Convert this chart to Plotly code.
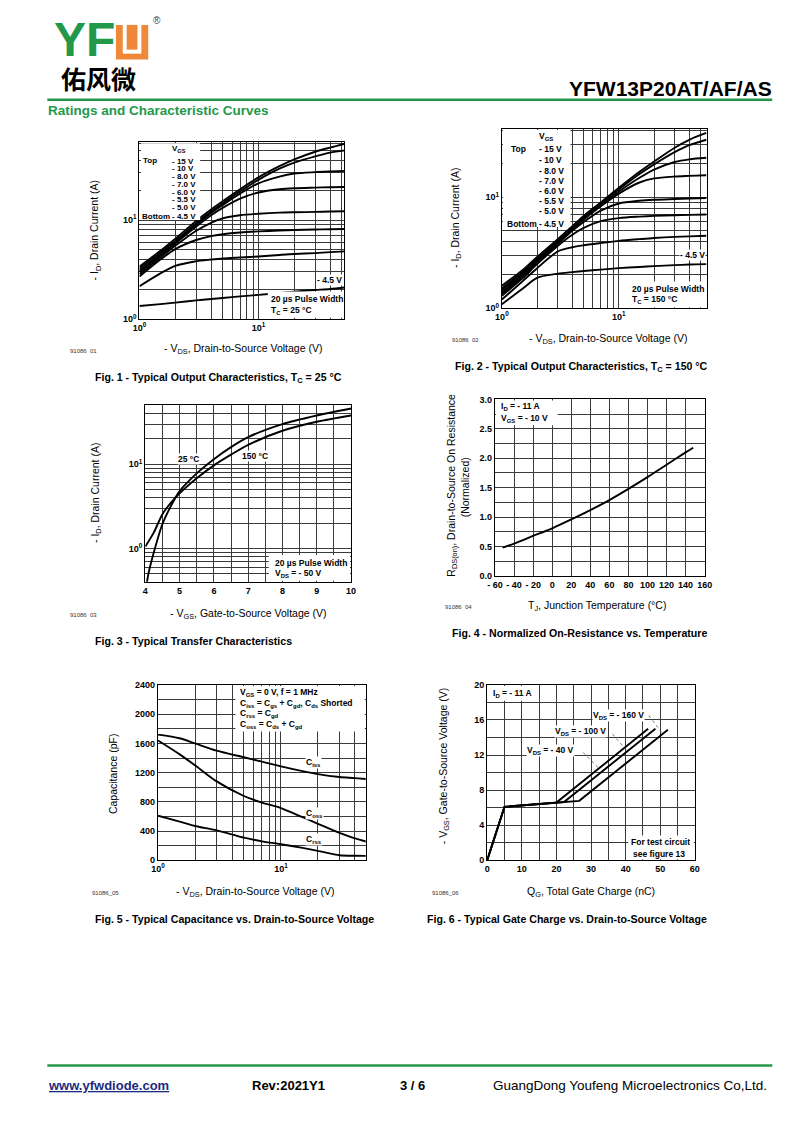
import numpy as np
import plotly.graph_objects as go

FONT = "Liberation Sans"
CJK = "Noto Sans CJK SC"
OFF = 8                     # browser body margin
W, H = 800 - 2 * OFF, 1130 - 2 * OFF
GREEN = "#23984a"
ORANGE = "#f0883a"

# ---------------- data ----------------
# Fig 1 / Fig 2 : output characteristics
vds_out = [1, 1.5, 2, 3, 4, 5, 7, 10, 15, 20, 30, 40, 56]
vgs_labels = ["- 15 V", "- 10 V", "- 8.0 V", "- 7.0 V", "- 6.0 V", "- 5.5 V", "- 5.0 V", "- 4.5 V"]

id25_15 = [3.4, 4.9, 6.5, 9.8, 12.8, 15.5, 20.5, 27, 35, 41, 49, 54, 60]
id25_10 = [3.25, 4.7, 6.2, 9.3, 12.2, 14.8, 19.5, 25.5, 33, 38, 44, 48, 51]
id25_8 = [3.1, 4.5, 6.0, 9.0, 11.8, 14.2, 18.5, 23.5, 27.5, 29.5, 30.5, 31, 31.5]
id25_7 = [3.0, 4.4, 5.8, 8.6, 11.2, 13.3, 16.5, 19.0, 20.5, 21, 21.3, 21.5, 21.6]
id25_6 = [2.85, 4.2, 5.5, 7.8, 9.4, 10.4, 11.2, 11.6, 11.9, 12.0, 12.1, 12.2, 12.3]
id25_55 = [2.7, 4.0, 5.1, 6.3, 6.9, 7.2, 7.5, 7.7, 7.85, 7.95, 8.05, 8.1, 8.15]
id25_5 = [2.15, 2.9, 3.45, 3.85, 4.0, 4.1, 4.2, 4.3, 4.45, 4.55, 4.65, 4.75, 4.85]
id25_45 = [1.36, 1.42, 1.47, 1.55, 1.6, 1.64, 1.7, 1.76, 1.84, 1.9, 1.97, 2.02, 2.1]

id150_15 = [1.6, 2.2, 2.9, 4.2, 5.5, 6.8, 9.0, 12.2, 17, 21, 28, 33, 38]
id150_10 = [1.52, 2.12, 2.8, 4.1, 5.4, 6.6, 8.8, 11.8, 16.2, 19.8, 25.5, 29.5, 33]
id150_8 = [1.46, 2.05, 2.72, 4.0, 5.3, 6.45, 8.6, 11.3, 15.0, 17.8, 20.8, 22, 22.7]
id150_7 = [1.4, 1.98, 2.65, 3.9, 5.15, 6.3, 8.3, 10.8, 13.6, 14.8, 15.4, 15.6, 15.8]
id150_6 = [1.35, 1.92, 2.58, 3.8, 5.0, 6.0, 7.6, 8.8, 9.3, 9.5, 9.65, 9.75, 9.85]
id150_55 = [1.3, 1.86, 2.5, 3.65, 4.6, 5.3, 6.1, 6.5, 6.7, 6.8, 6.9, 6.95, 7.0]
id150_5 = [1.2, 1.75, 2.3, 3.25, 3.55, 3.7, 3.88, 4.05, 4.2, 4.3, 4.4, 4.45, 4.5]
id150_45 = [1.09, 1.5, 1.88, 2.05, 2.12, 2.17, 2.23, 2.3, 2.36, 2.4, 2.45, 2.48, 2.5]

# Fig 3 : transfer characteristics
vgs_t25 = [4.05, 4.1, 4.25, 4.5, 4.75, 5, 5.5, 6, 6.5, 7, 8, 9, 10]
id_t25 = [0.4, 0.52, 0.9, 1.95, 3.2, 4.8, 7.8, 11.5, 16, 21, 30, 38, 46]
vgs_t150 = [4, 4.25, 4.5, 4.75, 5, 5.5, 6, 6.5, 7, 8, 9, 10]
id_t150 = [1.05, 1.55, 2.55, 3.5, 4.5, 6.8, 9.7, 13, 17, 25, 32, 38]

# Fig 4 : normalized on-resistance
tj = [-52, -40, -20, 0, 20, 40, 60, 80, 100, 120, 140, 148]
rds_norm = [0.48, 0.55, 0.68, 0.81, 0.96, 1.12, 1.29, 1.48, 1.68, 1.89, 2.1, 2.18]

# Fig 5 : capacitance
vds_cap = [1, 1.5, 2, 3, 5, 7, 10, 15, 20, 30, 40, 56]
ciss = [1720, 1670, 1600, 1500, 1410, 1350, 1285, 1220, 1180, 1140, 1125, 1105]
coss = [1640, 1450, 1300, 1080, 880, 790, 715, 590, 500, 375, 300, 235]
crss = [610, 530, 470, 410, 310, 260, 220, 170, 130, 70, 62, 60]

# Fig 6 : gate charge
qg_40 = [0, 5, 20, 46.5]
vg_40 = [0, 6.1, 6.58, 15]
qg_100 = [0, 5, 22.2, 48.6]
vg_100 = [0, 6.1, 6.65, 15]
qg_160 = [0, 5, 26.6, 52.2]
vg_160 = [0, 6.1, 6.78, 14.9]

# tick / grid values
log_grid_out1 = [1, 2, 3, 4, 5, 6, 7, 8, 9, 10, 20, 30, 40, 50, 60]
log_grid_x = [1, 2, 3, 4, 5, 6, 7, 8, 9, 10, 20, 30, 40, 50]
log_grid_out2 = [1, 2, 3, 4, 5, 6, 7, 8, 9, 10, 20, 30, 40]
log_grid_tr = [0.4, 0.5, 0.6, 0.7, 0.8, 0.9, 1, 2, 3, 4, 5, 6, 7, 8, 9, 10, 20, 30, 40, 50]
tr_x_grid = [4, 4.5, 5, 5.5, 6, 6.5, 7, 7.5, 8, 8.5, 9, 9.5, 10]
rt_x_ticks = [-60, -40, -20, 0, 20, 40, 60, 80, 100, 120, 140, 160]
rt_x_text = ["- 60", "- 40", "- 20", "0", "20", "40", "60", "80", "100", "120", "140", "160"]
rt_y_grid = [0, 0.25, 0.5, 0.75, 1.0, 1.25, 1.5, 1.75, 2.0, 2.25, 2.5, 2.75, 3.0]
cap_y_grid = list(range(0, 2401, 200))
qg_x_grid = list(range(0, 61, 5))
qg_y_grid = list(range(0, 21, 2))


# ---------------- helpers ----------------
def px(x):
    return (x - OFF) / W


def py(y):
    return 1 - (y - OFF) / H


def b(t):
    return "<b>" + t + "</b>"


def log_text(vals):
    out = []
    for v in vals:
        if v == 1:
            out.append(b("10<sup>0</sup>"))
        elif v == 10:
            out.append(b("10<sup>1</sup>"))
        else:
            out.append("")
    return out


def lin_text(vals, step, fmt="{:g}"):
    out = []
    for v in vals:
        if abs(v / step - round(v / step)) < 1e-9:
            out.append(b(fmt.format(v)))
        else:
            out.append("")
    return out


common = dict(showline=True, mirror=True, linecolor="black", linewidth=1.3,
              showgrid=True, gridcolor="#3a3a3a", gridwidth=0.8, zeroline=False,
              ticks="", fixedrange=True,
              tickfont=dict(family=FONT, size=9, color="black"))

fig = go.Figure()

LW = 1.9


def add_line(x, y, ax, shape="spline", smoothing=0.8):
    fig.add_trace(go.Scatter(x=x, y=y, xaxis="x" + ax, yaxis="y" + ax, mode="lines",
                             line=dict(color="black", width=LW, shape=shape,
                                       smoothing=smoothing if shape == "spline" else None),
                             hoverinfo="skip", showlegend=False))


for s in [id25_15, id25_10, id25_8, id25_7, id25_6, id25_55, id25_5, id25_45]:
    add_line(vds_out, s, "")
for s in [id150_15, id150_10, id150_8, id150_7, id150_6, id150_55, id150_5, id150_45]:
    add_line(vds_out, s, "2")
add_line(vgs_t25, id_t25, "3")
add_line(vgs_t150, id_t150, "3")
add_line(tj, rds_norm, "4")
add_line(vds_cap, ciss, "5")
add_line(vds_cap, coss, "5")
add_line(vds_cap, crss, "5", smoothing=0.6)
add_line(qg_40, vg_40, "6", shape="linear")
add_line(qg_100, vg_100, "6", shape="linear")
add_line(qg_160, vg_160, "6", shape="linear")


def dom(x0, x1, y0, y1):
    return [px(x0), px(x1)], [py(y1), py(y0)]


lay = {}
# fig1
xd, yd = dom(134, 343, 138, 317)
lay["xaxis"] = dict(domain=xd, anchor="y", type="log", range=[0, 1.72],
                    tickvals=log_grid_x, ticktext=log_text(log_grid_x), **common)
lay["yaxis"] = dict(domain=yd, anchor="x", type="log", range=[0, 1.79],
                    tickvals=log_grid_out1, ticktext=log_text(log_grid_out1), **common)
# fig2
xd, yd = dom(504, 713, 125, 306)
lay["xaxis2"] = dict(domain=xd, anchor="y2", type="log", range=[0, 1.75],
                     tickvals=log_grid_x, ticktext=log_text(log_grid_x), **common)
lay["yaxis2"] = dict(domain=yd, anchor="x2", type="log", range=[0, 1.616],
                     tickvals=log_grid_out2, ticktext=log_text(log_grid_out2), **common)
# fig3
xd, yd = dom(140, 350, 404, 582)
lay["xaxis3"] = dict(domain=xd, anchor="y3", range=[4, 10],
                     tickvals=tr_x_grid, ticktext=lin_text(tr_x_grid, 1), **common)
lay["yaxis3"] = dict(domain=yd, anchor="x3", type="log", range=[np.log10(0.4), np.log10(50)],
                     tickvals=log_grid_tr, ticktext=log_text(log_grid_tr), **common)
# fig4
xd, yd = dom(497, 711, 398, 576)
lay["xaxis4"] = dict(domain=xd, anchor="y4", range=[-60, 160],
                     tickvals=rt_x_ticks, ticktext=[b(t) for t in rt_x_text], **common)
lay["yaxis4"] = dict(domain=yd, anchor="x4", range=[0, 3],
                     tickvals=rt_y_grid, ticktext=lin_text(rt_y_grid, 0.5, "{:.1f}"), **common)
# fig5
xd, yd = dom(153, 365, 686, 863)
lay["xaxis5"] = dict(domain=xd, anchor="y5", type="log", range=[0, 1.69],
                     tickvals=log_grid_x, ticktext=log_text(log_grid_x), **common)
lay["yaxis5"] = dict(domain=yd, anchor="x5", range=[0, 2400],
                     tickvals=cap_y_grid, ticktext=lin_text(cap_y_grid, 400), **common)
# fig6
xd, yd = dom(489, 701, 686, 863)
lay["xaxis6"] = dict(domain=xd, anchor="y6", range=[0, 60],
                     tickvals=qg_x_grid, ticktext=lin_text(qg_x_grid, 10), **common)
lay["yaxis6"] = dict(domain=yd, anchor="x6", range=[0, 20],
                     tickvals=qg_y_grid, ticktext=lin_text(qg_y_grid, 4), **common)

anns = []


def ann(text, x, y, size=9, bold=True, xanchor="left", yanchor="middle", bg=None,
        color="black", angle=0, family=FONT):
    d = dict(text=b(text) if bold else text, x=px(x), y=py(y), xref="paper", yref="paper",
             showarrow=False, xanchor=xanchor, yanchor=yanchor, borderpad=0,
             font=dict(family=family, size=size, color=color), textangle=angle)
    if bg:
        d["bgcolor"] = bg
    anns.append(d)


shapes = []


def wbox(x0, y0, x1, y1):
    shapes.append(dict(type="rect", xref="paper", yref="paper", x0=px(x0), x1=px(x1),
                       y0=py(y1), y1=py(y0), fillcolor="white", line=dict(width=0),
                       layer="above"))


def prect(x0, y0, x1, y1, color):
    shapes.append(dict(type="rect", xref="paper", yref="paper", x0=px(x0), x1=px(x1),
                       y0=py(y1), y1=py(y0), fillcolor=color, line=dict(width=0),
                       layer="above"))


def hline(x0, x1, y, color, width):
    shapes.append(dict(type="line", xref="paper", yref="paper", x0=px(x0), x1=px(x1),
                       y0=py(y), y1=py(y), line=dict(color=color, width=width)))


# ---------------- header / footer ----------------
ann("YF", 46, 35, size=48, color=GREEN)
prect(110, 20, 143, 55, ORANGE)
prect(117, 20, 136, 49, "white")
prect(121, 20, 132, 45, ORANGE)
ann("®", 152, 16, size=10, bold=False, xanchor="center", color="#444")
ann("佑风微", 53, 74, size=25, family=CJK, bold=True)
ann("YFW13P20AT/AF/AS", 781, 84, size=21, xanchor="right")
hline(40, 780, 95.5, GREEN, 2.5)
ann("Ratings and Characteristic Curves", 40, 106, size=13.5, color=GREEN)

hline(40, 780, 1070, GREEN, 2.5)
ann("<u>www.yfwdiode.com</u>", 40, 1090, size=13, color="#1c2c80")
ann("Rev:2021Y1", 248, 1090, size=13)
ann("3 / 6", 399, 1090, size=13)
ann("GuangDong Youfeng Microelectronics Co,Ltd.", 776, 1090, size=13.5, bold=False,
    xanchor="right")

# ---------------- fig 1 ----------------
wbox(135.5, 139.5, 196, 217)
ann("V<sub>GS</sub>", 166, 145, size=8)
ann("Top", 137, 157, size=8)
ys1 = [157.5, 165.3, 173.1, 180.9, 188.7, 196.5, 204.3, 213]
for lab, yy in zip(vgs_labels, ys1):
    ann(lab, 166, yy, size=8)
ann("Bottom", 135.5, 213, size=8)
ann("- 4.5 V", 342, 277, size=8.5, xanchor="right", bg="white")
wbox(265, 289, 342, 315.5)
ann("20 µs Pulse Width", 267, 297, size=8.5)
ann("T<sub>C</sub> = 25 °C", 267, 308, size=8.5)
ann("- I<sub>D</sub>, Drain Current (A)", 89, 227, size=10.5, bold=False, angle=-90,
    xanchor="center")
ann("- V<sub>DS</sub>, Drain-to-Source Voltage (V)", 240, 347, size=10.5, bold=False,
    xanchor="center")
ann("91086  01", 62, 349, size=6, bold=False, color="#333")
ann("Fig. 1 - Typical Output Characteristics, T<sub>C</sub> = 25 °C", 88, 376, size=10.6)

# ---------------- fig 2 ----------------
wbox(505, 126, 574, 224)
ann("V<sub>GS</sub>", 541, 133, size=8.5)
ann("Top", 512, 145, size=8.5)
ys2 = [145, 156, 167, 178, 188, 198, 207.5, 221]
for lab, yy in zip(vgs_labels, ys2):
    ann(lab, 541, yy, size=8.5)
ann("Bottom", 508, 221, size=8.5)
ann("- 4.5 V", 712, 252, size=8.5, xanchor="right", bg="white")
wbox(633, 279, 712, 305)
ann("20 µs Pulse Width", 636, 287, size=8.5)
ann("T<sub>C</sub> = 150 °C", 636, 297.5, size=8.5)
ann("- I<sub>D</sub>, Drain Current (A)", 457, 215, size=10.5, bold=False, angle=-90,
    xanchor="center")
ann("- V<sub>DS</sub>, Drain-to-Source Voltage (V)", 612, 337, size=10.5, bold=False,
    xanchor="center")
ann("91086  02", 452, 338, size=6, bold=False, color="#333")
ann("Fig. 2 - Typical Output Characteristics, T<sub>C</sub> = 150 °C", 455, 365, size=10.6)

# ---------------- fig 3 ----------------
ann("25 °C", 172, 458, size=8.5, bg="white")
ann("150 °C", 238, 455, size=8.5, bg="white")
wbox(266, 555, 349, 581)
ann("20 µs Pulse Width", 271, 563, size=8.5)
ann("V<sub>DS</sub> = - 50 V", 271, 573.5, size=8.5)
ann("- I<sub>D</sub>, Drain Current (A)", 89, 492, size=10.5, bold=False, angle=-90,
    xanchor="center")
ann("- V<sub>GS</sub>, Gate-to-Source Voltage (V)", 245, 614, size=10.5, bold=False,
    xanchor="center")
ann("91086  03", 62, 615, size=6, bold=False, color="#333")
ann("Fig. 3 - Typical Transfer Characteristics", 88, 642, size=10.6)

# ---------------- fig 4 ----------------
wbox(498, 399, 561, 424)
ann("I<sub>D</sub> = - 11 A", 502, 405.5, size=8.5)
ann("V<sub>GS</sub> = - 10 V", 502, 417, size=8.5)
ann("R<sub>DS(on)</sub>, Drain-to-Source On Resistance", 453, 484, size=10.5, bold=False,
    angle=-90, xanchor="center")
ann("(Normalized)", 466, 487, size=10.5, bold=False, angle=-90, xanchor="center")
ann("T<sub>J</sub>, Junction Temperature (°C)", 601, 606, size=10.5, bold=False,
    xanchor="center")
ann("91086  04", 445, 607, size=6, bold=False, color="#333")
ann("Fig. 4 - Normalized On-Resistance vs. Temperature", 452, 634, size=10.6)

# ---------------- fig 5 ----------------
wbox(232, 687, 364, 733)
ann("V<sub>GS</sub> = 0 V, f = 1 MHz", 236, 694, size=8.5)
ann("C<sub>iss</sub> = C<sub>gs</sub> + C<sub>gd</sub>, C<sub>ds</sub> Shorted", 236, 704.5,
    size=8.5)
ann("C<sub>rss</sub> = C<sub>gd</sub>", 236, 714.5, size=8.5)
ann("C<sub>oss</sub> = C<sub>ds</sub> + C<sub>gd</sub>", 236, 726, size=8.5)
ann("C<sub>iss</sub>", 303, 764, size=8.5, bg="white")
ann("C<sub>oss</sub>", 303, 815.5, size=8.5, bg="white")
ann("C<sub>rss</sub>", 303, 842, size=8.5, bg="white")
ann("Capacitance (pF)", 107, 775, size=10.5, bold=False, angle=-90, xanchor="center")
ann("- V<sub>DS</sub>, Drain-to-Source Voltage (V)", 252, 895, size=10.5, bold=False,
    xanchor="center")
ann("91086_05", 85, 896, size=6, bold=False, color="#333")
ann("Fig. 5 - Typical Capacitance vs. Drain-to-Source Voltage", 88, 922, size=10.6)

# ---------------- fig 6 ----------------
wbox(490, 687, 538, 702)
ann("I<sub>D</sub> = - 11 A", 494, 695, size=8.5)
ann("V<sub>DS</sub> = - 160 V", 596, 717, size=8.5, bg="white")
ann("V<sub>DS</sub> = - 100 V", 557, 733.5, size=8.5, bg="white")
ann("V<sub>DS</sub> = - 40 V", 529, 752, size=8.5, bg="white")
wbox(633, 838, 700, 862)
ann("For test circuit", 697, 845, size=8.5, xanchor="right")
ann("see figure 13", 692, 857, size=8.5, xanchor="right")
# leader lines from label ends to curves
for (tx, ty, qx, qs, vs) in [(46.7, 16.5, 50.7, qg_160, vg_160),
                             (36.2, 14.4, 40.5, qg_100, vg_100),
                             (27.7, 12.3, 32.3, qg_40, vg_40)]:
    shapes.append(dict(type="line", xref="x6", yref="y6", x0=tx, y0=ty, x1=qx,
                       y1=float(np.interp(qx, qs, vs)),
                       line=dict(color="#555", width=0.8, dash="dot")))
ann("- V<sub>GS</sub>, Gate-to-Source Voltage (V)", 445, 768, size=10.5, bold=False,
    angle=-90, xanchor="center")
ann("Q<sub>G</sub>, Total Gate Charge (nC)", 595, 895, size=10.5, bold=False,
    xanchor="center")
ann("91086_06", 432, 896, size=6, bold=False, color="#333")
ann("Fig. 6 - Typical Gate Charge vs. Drain-to-Source Voltage", 427, 922, size=10.6)

fig.update_layout(width=W, height=H, margin=dict(l=0, r=0, t=0, b=0),
                  paper_bgcolor="white", plot_bgcolor="white",
                  font=dict(family=FONT, color="black"),
                  annotations=anns, shapes=shapes, **lay)

fig.write_html("out.html", config={"displayModeBar": False})
